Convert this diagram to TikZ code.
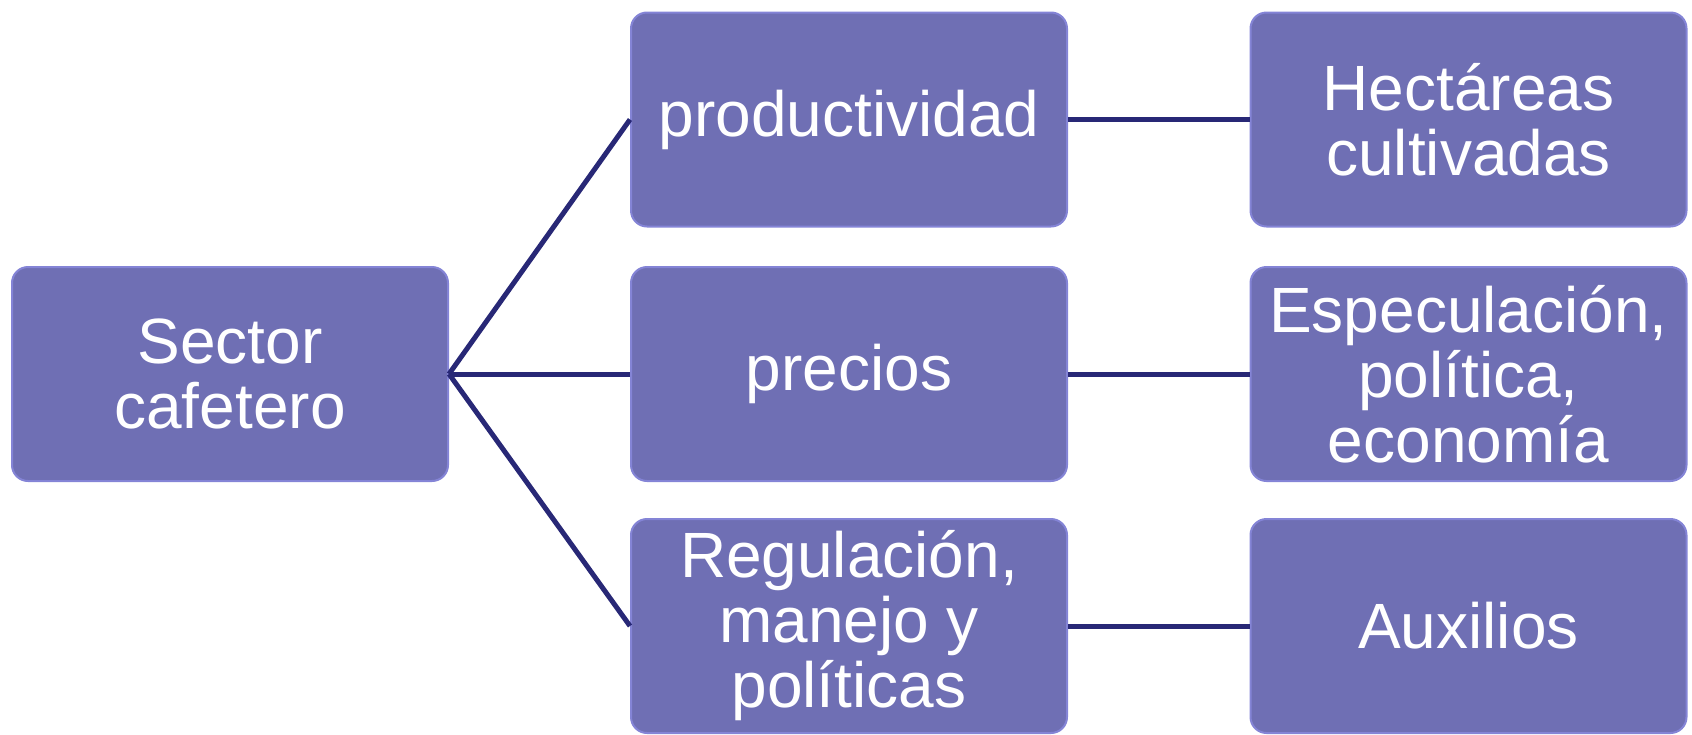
\documentclass[tikz,border=0pt]{standalone}
\usepackage{fontspec}
\setmainfont{Liberation Sans}
\usepackage{tikz}
\definecolor{boxfill}{RGB}{111,111,180}
\definecolor{boxedge}{RGB}{132,132,214}
\definecolor{linkcol}{RGB}{40,40,118}
\tikzset{
	caja/.style={rounded corners=8pt, fill=boxfill, draw=boxedge, line width=1pt,
		minimum width=218pt, minimum height=107pt, inner sep=0pt,
		text=white, align=center, font=\fontsize{32}{32.5}\selectfont},
	enlace/.style={line width=2.5pt, color=linkcol}
}

\begin{document}
\begin{tikzpicture}[x=0.5pt, y=-0.5pt]
			%%%%% START %%%%%
			
			\useasboundingbox (0, 0) rectangle (1692, 734);
			
			\node[caja] (sector) at (230, 374) {Sector\\cafetero};
			
			\node[caja] (prod) at (849, 119.5) {productividad};
			\node[caja] (prec) at (849, 374) {precios};
			\node[caja] (regu) at (849, 626) {Regulación,\\manejo y\\políticas};
			
			\node[caja] (hect) at (1468.5, 119.5) {Hectáreas\\cultivadas};
			\node[caja] (espe) at (1468.5, 374) {Especulación,\\política,\\economía};
			\node[caja] (auxi) at (1468.5, 626) {Auxilios};
			
			\draw[enlace] (sector.east) -- (prod.west);
			\draw[enlace] (sector.east) -- (prec.west);
			\draw[enlace] (sector.east) -- (regu.west);
			
			\draw[enlace] (prod.east) -- (hect.west);
			\draw[enlace] (prec.east) -- (espe.west);
			\draw[enlace] (regu.east) -- (auxi.west);
			
			%%%%% END %%%%%
		\end{tikzpicture}
\end{document}
